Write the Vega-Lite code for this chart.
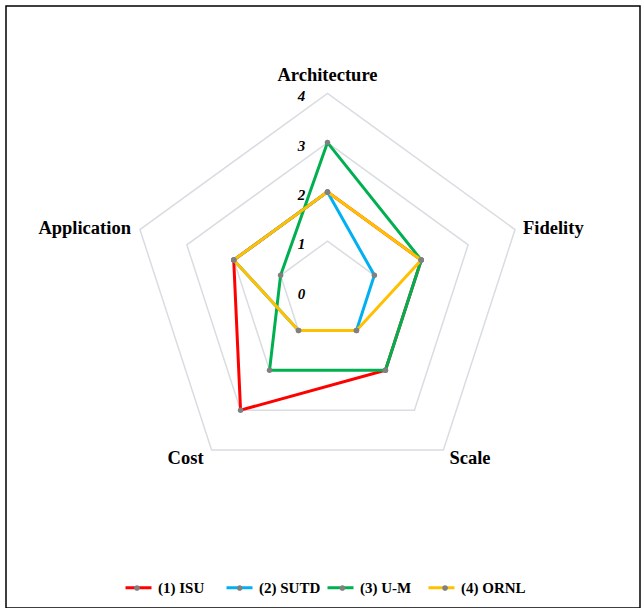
{
  "$schema": "https://vega.github.io/schema/vega-lite/v6.json",
  "autosize": "none",
  "padding": {"left": 6, "top": 6, "right": 2, "bottom": 0},
  "width": 634,
  "height": 602,
  "background": "white",
  "config": {"view": {"stroke": "black", "strokeWidth": 1.5}, "font": "Liberation Serif"},
  "datasets": {
    "scores": [
      {"series": "(1) ISU", "axis": "Architecture", "value": 2},
      {"series": "(1) ISU", "axis": "Fidelity", "value": 2},
      {"series": "(1) ISU", "axis": "Scale", "value": 2},
      {"series": "(1) ISU", "axis": "Cost", "value": 3},
      {"series": "(1) ISU", "axis": "Application", "value": 2},
      {"series": "(2) SUTD", "axis": "Architecture", "value": 2},
      {"series": "(2) SUTD", "axis": "Fidelity", "value": 1},
      {"series": "(2) SUTD", "axis": "Scale", "value": 1},
      {"series": "(2) SUTD", "axis": "Cost", "value": 1},
      {"series": "(2) SUTD", "axis": "Application", "value": 2},
      {"series": "(3) U-M", "axis": "Architecture", "value": 3},
      {"series": "(3) U-M", "axis": "Fidelity", "value": 2},
      {"series": "(3) U-M", "axis": "Scale", "value": 2},
      {"series": "(3) U-M", "axis": "Cost", "value": 2},
      {"series": "(3) U-M", "axis": "Application", "value": 1},
      {"series": "(4) ORNL", "axis": "Architecture", "value": 2},
      {"series": "(4) ORNL", "axis": "Fidelity", "value": 2},
      {"series": "(4) ORNL", "axis": "Scale", "value": 1},
      {"series": "(4) ORNL", "axis": "Cost", "value": 1},
      {"series": "(4) ORNL", "axis": "Application", "value": 2}
    ],
    "grid": [
      {"r": 1, "axis": "Architecture"}, {"r": 1, "axis": "Fidelity"}, {"r": 1, "axis": "Scale"}, {"r": 1, "axis": "Cost"}, {"r": 1, "axis": "Application"},
      {"r": 2, "axis": "Architecture"}, {"r": 2, "axis": "Fidelity"}, {"r": 2, "axis": "Scale"}, {"r": 2, "axis": "Cost"}, {"r": 2, "axis": "Application"},
      {"r": 3, "axis": "Architecture"}, {"r": 3, "axis": "Fidelity"}, {"r": 3, "axis": "Scale"}, {"r": 3, "axis": "Cost"}, {"r": 3, "axis": "Application"},
      {"r": 4, "axis": "Architecture"}, {"r": 4, "axis": "Fidelity"}, {"r": 4, "axis": "Scale"}, {"r": 4, "axis": "Cost"}, {"r": 4, "axis": "Application"}
    ],
    "ticks": [{"level": 0}, {"level": 1}, {"level": 2}, {"level": 3}, {"level": 4}]
  },
  "layer": [
    {
      "data": {"name": "grid"},
      "transform": [
        {"calculate": "indexof(['Architecture','Fidelity','Scale','Cost','Application'], datum.axis)", "as": "i"},
        {"calculate": "PI/2 - 2*PI*datum.i/5", "as": "theta"},
        {"calculate": "datum.r*cos(datum.theta)", "as": "x"},
        {"calculate": "datum.r*sin(datum.theta)", "as": "y"}
      ],
      "mark": {"type": "line", "interpolate": "linear-closed", "stroke": "#d9dce1", "strokeWidth": 1.5},
      "encoding": {
        "x": {"field": "x", "type": "quantitative", "scale": {"domain": [-6.521, 6.339], "nice": false, "zero": false}, "axis": null},
        "y": {"field": "y", "type": "quantitative", "scale": {"domain": [-6.44, 5.771], "nice": false, "zero": false}, "axis": null},
        "detail": {"field": "r"},
        "order": {"field": "i"}
      }
    },
    {
      "data": {"name": "scores"},
      "transform": [
        {"calculate": "indexof(['Architecture','Fidelity','Scale','Cost','Application'], datum.axis)", "as": "i"},
        {"calculate": "PI/2 - 2*PI*datum.i/5", "as": "theta"},
        {"calculate": "datum.value*cos(datum.theta)", "as": "x"},
        {"calculate": "datum.value*sin(datum.theta)", "as": "y"}
      ],
      "layer": [
        {
          "mark": {"type": "line", "interpolate": "linear-closed", "strokeWidth": 3},
          "encoding": {
            "x": {"field": "x", "type": "quantitative"},
            "y": {"field": "y", "type": "quantitative"},
            "order": {"field": "i"},
            "color": {
              "field": "series",
              "type": "nominal",
              "scale": {"domain": ["(1) ISU", "(2) SUTD", "(3) U-M", "(4) ORNL"], "range": ["#FF0000", "#00B0F0", "#00B050", "#FFC000"]},
              "legend": {
                "orient": "none", "legendX": 118, "legendY": 567, "direction": "horizontal", "columns": 4,
                "title": null, "symbolType": "stroke", "symbolSize": 676, "symbolStrokeWidth": 3,
                "labelFont": "Liberation Serif", "labelFontSize": 15, "labelFontWeight": "bold", "labelColor": "black",
                "gridAlign": "all", "columnPadding": -3, "labelOffset": 5
              }
            }
          }
        },
        {
          "mark": {"type": "point", "filled": true, "size": 30, "opacity": 1},
          "encoding": {
            "x": {"field": "x", "type": "quantitative"},
            "y": {"field": "y", "type": "quantitative"},
            "fill": {
              "field": "series",
              "type": "nominal",
              "scale": {"range": ["#808080", "#808080", "#808080", "#808080"]},
              "legend": {
                "orient": "none", "legendX": 118, "legendY": 569, "direction": "horizontal", "columns": 4,
                "title": null, "symbolType": "M-1,0H1M0.22,0A0.22,0.22,0,1,1,-0.22,0A0.22,0.22,0,1,1,0.22,0Z", "symbolSize": 676,
                "symbolStrokeWidth": 0, "symbolOpacity": 1,
                "labelExpr": "''", "labelFontSize": 15, "labelOffset": 5,
                "gridAlign": "all", "columnPadding": 71.7
              }
            }
          }
        }
      ]
    },
    {
      "data": {"name": "ticks"},
      "mark": {"type": "text", "dx": -26, "dy": 3, "fontSize": 15, "fontStyle": "italic", "fontWeight": "bold", "font": "Liberation Serif", "color": "black"},
      "encoding": {
        "x": {"datum": 0, "type": "quantitative"},
        "y": {"field": "level", "type": "quantitative"},
        "text": {"field": "level"}
      }
    },
    {
      "data": {"name": "grid"},
      "transform": [
        {"filter": "datum.r == 4"},
        {"calculate": "indexof(['Architecture','Fidelity','Scale','Cost','Application'], datum.axis)", "as": "i"},
        {"calculate": "PI/2 - 2*PI*datum.i/5", "as": "theta"},
        {"calculate": "datum.r*cos(datum.theta)", "as": "x"},
        {"calculate": "datum.r*sin(datum.theta)", "as": "y"}
      ],
      "layer": [
        {
          "transform": [{"filter": "datum.axis == 'Architecture'"}],
          "mark": {"type": "text", "align": "center", "baseline": "middle", "dy": -18, "fontSize": 18.5, "fontWeight": "bold", "font": "Liberation Serif", "color": "black"},
          "encoding": {"x": {"field": "x", "type": "quantitative"}, "y": {"field": "y", "type": "quantitative"}, "text": {"field": "axis"}}
        },
        {
          "transform": [{"filter": "datum.axis == 'Fidelity'"}],
          "mark": {"type": "text", "align": "left", "baseline": "middle", "dx": 8, "dy": -2, "fontSize": 18.5, "fontWeight": "bold", "font": "Liberation Serif", "color": "black"},
          "encoding": {"x": {"field": "x", "type": "quantitative"}, "y": {"field": "y", "type": "quantitative"}, "text": {"field": "axis"}}
        },
        {
          "transform": [{"filter": "datum.axis == 'Scale'"}],
          "mark": {"type": "text", "align": "left", "baseline": "middle", "dx": 6, "dy": 8, "fontSize": 18.5, "fontWeight": "bold", "font": "Liberation Serif", "color": "black"},
          "encoding": {"x": {"field": "x", "type": "quantitative"}, "y": {"field": "y", "type": "quantitative"}, "text": {"field": "axis"}}
        },
        {
          "transform": [{"filter": "datum.axis == 'Cost'"}],
          "mark": {"type": "text", "align": "right", "baseline": "middle", "dx": -8, "dy": 8, "fontSize": 18.5, "fontWeight": "bold", "font": "Liberation Serif", "color": "black"},
          "encoding": {"x": {"field": "x", "type": "quantitative"}, "y": {"field": "y", "type": "quantitative"}, "text": {"field": "axis"}}
        },
        {
          "transform": [{"filter": "datum.axis == 'Application'"}],
          "mark": {"type": "text", "align": "right", "baseline": "middle", "dx": -9, "dy": -2, "fontSize": 18.5, "fontWeight": "bold", "font": "Liberation Serif", "color": "black"},
          "encoding": {"x": {"field": "x", "type": "quantitative"}, "y": {"field": "y", "type": "quantitative"}, "text": {"field": "axis"}}
        }
      ]
    }
  ]
}
